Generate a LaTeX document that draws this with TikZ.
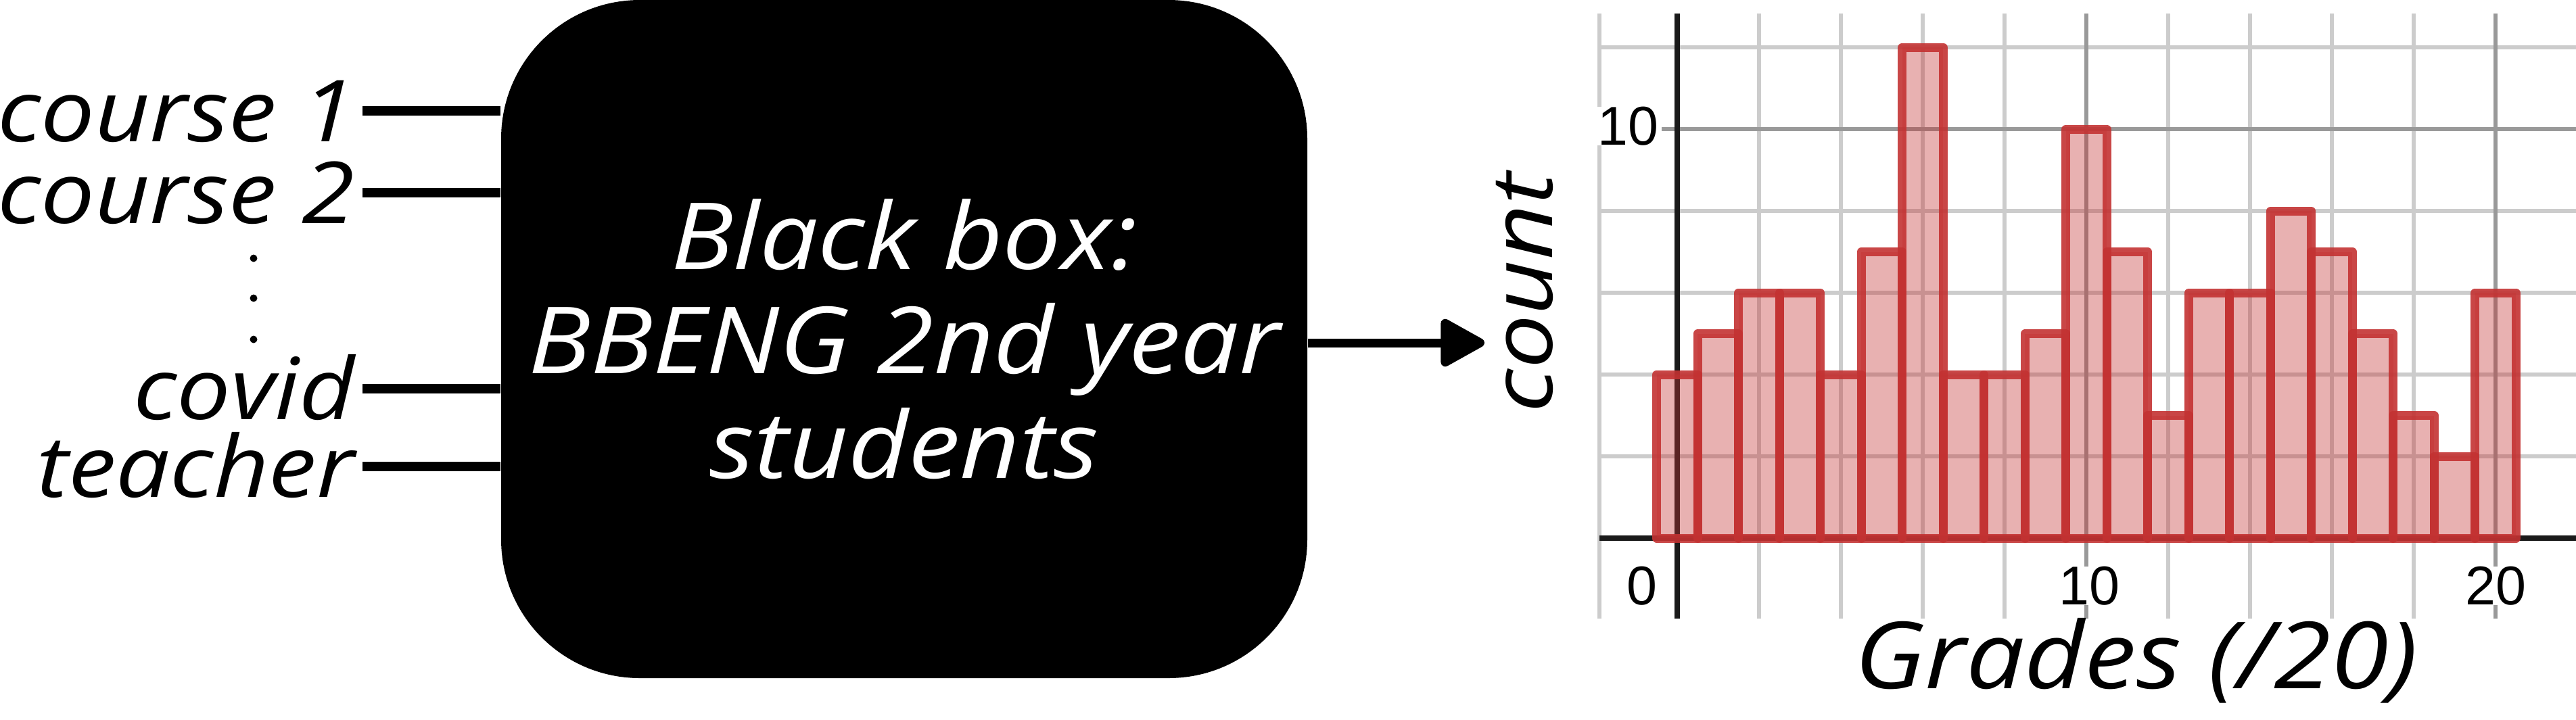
\documentclass[tikz,border=0pt]{standalone}
\usepackage{fontspec}
\newfontfamily\handfont{Open Sans}[FakeStretch=1.12]
\newfontfamily\tickfont{Liberation Sans}
\usetikzlibrary{arrows.meta}
\definecolor{barcolor}{RGB}{195,50,50}
\definecolor{gridlight}{RGB}{204,204,204}
\definecolor{griddark}{RGB}{153,153,153}
\definecolor{axiscolor}{RGB}{26,26,26}
\tikzset{
  inputln/.style={line width=0.14cm},
  inlabel/.style={anchor=east, inner xsep=0.11cm, inner ysep=0pt, text height=26pt, text depth=0pt,
    font=\handfont\itshape\fontsize{36}{40}\selectfont},
  blackbox/.style={fill=black, text=white, rounded corners=2.05cm, minimum width=11.92cm,
    minimum height=10.03cm, align=center, font=\handfont\itshape\fontsize{39}{44}\selectfont},
  arrowln/.style={-{Triangle[length=0.72cm,width=0.76cm,round]}, line width=0.13cm},
  gridln/.style={gridlight, line width=0.06cm},
  majorln/.style={griddark, line width=0.06cm},
  axisln/.style={axiscolor, line width=0.08cm},
  barln/.style={draw=barcolor, draw opacity=0.9, fill=barcolor, fill opacity=0.38,
    line width=0.13cm, line join=round},
  ticklbl/.style={font=\tickfont\fontsize{23}{23}\selectfont, fill=white, inner sep=0pt},
  axlabel/.style={font=\handfont\itshape\fontsize{36}{40}\selectfont},
}

\begin{document}
\begin{tikzpicture}
  \useasboundingbox (0,0) rectangle (38.09,-10.64);

  % the black box
  \node[blackbox] (bbox) at (13.37,-5.015) {Black box:\\BBENG 2nd year\\students};

  % inputs
  \node[inlabel] (course1) at (5.36,-1.64) {course 1};
  \node[inlabel] (course2) at (5.36,-2.85) {course 2};
  \node[inlabel] (covid) at (5.36,-5.75) {covid};
  \node[inlabel] (teacher) at (5.36,-6.90) {teacher};
  \foreach \n in {course1,course2,covid,teacher}
    \draw[inputln] (\n.east) -- (\n.east -| bbox.west);
  \foreach \y in {-3.82,-4.41,-5.02}
    \fill (3.75,\y) circle (0.055);

  % output
  \coordinate (outtip) at (21.95,-5.07);
  \draw[arrowln] (bbox.east |- outtip) -- (outtip);

  % histogram of grades
  \begin{scope}[shift={(24.80,-7.96)}, x=0.605cm, y=0.605cm]
    \foreach \x in {-1.9,2,4,6,8,12,14,16,18}
      \draw[gridln] (\x,-1.97) -- (\x,12.83);
    \foreach \y in {2,4,6,8,12}
      \draw[gridln] (-1.9,\y) -- (21.97,\y);
    \foreach \x in {10,20}
      \draw[majorln] (\x,-1.97) -- (\x,12.83);
    \draw[majorln] (-0.38,10) -- (21.97,10);

    \draw[axisln] (0,-1.97) -- (0,12.83);
    \draw[axisln] (-1.9,0) -- (21.97,0);

    \foreach \h [count=\i from 0] in {4,5,6,6,4,7,12,4,4,5,10,7,3,6,6,8,7,5,3,2,6}
      \draw[barln] (\i-0.5,0) rectangle (\i+0.5,\h);

    \node[ticklbl] (ytick10) at (-1.2,10.08) {10};
    \node[ticklbl] (xtick0) at (-0.86,-1.17) {0};
    \node[ticklbl] (xtick10) at (10.07,-1.17) {10};
    \node[ticklbl] (xtick20) at (20,-1.17) {20};

    \node[axlabel, rotate=90] (ylabel) at (-3.72,6.0) {count};
    \node[axlabel, font=\handfont\itshape\fontsize{39}{44}\selectfont] (xlabel) at (11.22,-3.0) {Grades (/20)};
  \end{scope}
\end{tikzpicture}
\end{document}
